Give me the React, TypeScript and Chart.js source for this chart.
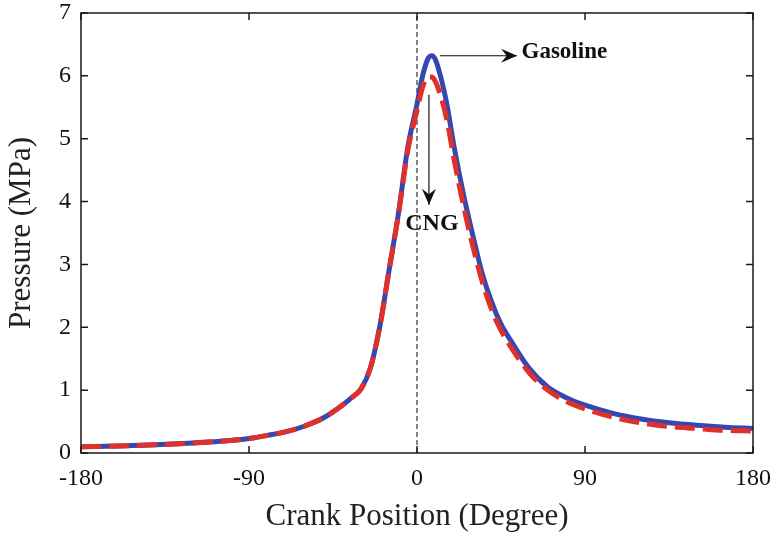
import React, { useEffect, useRef } from "react";
import { Chart, registerables } from "chart.js";

Chart.register(...registerables);

const crankAngles = [-180, -160, -140, -120, -100, -90, -80, -70, -60, -50, -40, -35, -30, -25, -20, -15, -10, -5, 0, 3, 6, 8, 10, 13, 16, 20, 25, 30, 35, 40, 45, 50, 60, 70, 80, 90, 105, 120, 135, 150, 165, 180];

const gasolinePressure = [0.10, 0.11, 0.13, 0.16, 0.20, 0.23, 0.28, 0.34, 0.43, 0.56, 0.76, 0.88, 1.02, 1.35, 2.0, 2.9, 3.8, 4.85, 5.55, 6.0, 6.28, 6.32, 6.25, 5.95, 5.55, 4.85, 4.1, 3.45, 2.85, 2.4, 2.05, 1.8, 1.35, 1.05, 0.88, 0.76, 0.63, 0.54, 0.48, 0.44, 0.41, 0.39];

const cngPressure = [0.10, 0.11, 0.13, 0.16, 0.20, 0.23, 0.28, 0.34, 0.43, 0.56, 0.76, 0.88, 1.02, 1.35, 2.0, 2.9, 3.78, 4.8, 5.45, 5.82, 5.98, 5.98, 5.9, 5.65, 5.3, 4.65, 3.92, 3.28, 2.72, 2.28, 1.95, 1.7, 1.28, 1.0, 0.82, 0.7, 0.57, 0.48, 0.42, 0.39, 0.36, 0.35];

const tdcLineX = [0, 0];
const tdcLineY = [0, 7];

const xTicks = [-180, -90, 0, 90, 180];
const yTicks = [0, 1, 2, 3, 4, 5, 6, 7];

const gasolineNote = { text: "Gasoline", x: 56, y: 6.38, fromX: 12.3, fromY: 6.32, toX: 53.6, toY: 6.32 };
const cngNote = { text: "CNG", x: 8, y: 3.64, fromX: 6.4, fromY: 5.7, toX: 6.4, toY: 3.95 };

const SERIF = "'Liberation Serif', 'Times New Roman', serif";

const framePlugin = {
  id: "frame",
  afterDatasetsDraw(chart: any) {
    const { ctx, chartArea: a, scales } = chart;
    const xs = scales.x;
    const ys = scales.y;
    ctx.save();
    ctx.strokeStyle = "#1a1a1a";
    ctx.lineWidth = 1.5;
    ctx.strokeRect(a.left, a.top, a.right - a.left, a.bottom - a.top);
    const tl = 7;
    ctx.beginPath();
    xTicks.forEach((v) => {
      const px = xs.getPixelForValue(v);
      ctx.moveTo(px, a.bottom);
      ctx.lineTo(px, a.bottom - tl);
      ctx.moveTo(px, a.top);
      ctx.lineTo(px, a.top + tl);
    });
    yTicks.forEach((v) => {
      const py = ys.getPixelForValue(v);
      ctx.moveTo(a.left, py);
      ctx.lineTo(a.left + tl, py);
      ctx.moveTo(a.right, py);
      ctx.lineTo(a.right - tl, py);
    });
    ctx.stroke();

    ctx.strokeStyle = "#111";
    ctx.fillStyle = "#111";
    ctx.lineWidth = 1.2;
    const arrow = (n: any) => {
      const x1 = xs.getPixelForValue(n.fromX);
      const y1 = ys.getPixelForValue(n.fromY);
      const x2 = xs.getPixelForValue(n.toX);
      const y2 = ys.getPixelForValue(n.toY);
      ctx.beginPath();
      ctx.moveTo(x1, y1);
      ctx.lineTo(x2, y2);
      ctx.stroke();
      const ang = Math.atan2(y2 - y1, x2 - x1);
      const L = 16;
      const W = 7;
      ctx.beginPath();
      ctx.moveTo(x2, y2);
      ctx.lineTo(x2 - L * Math.cos(ang) + W * Math.sin(ang), y2 - L * Math.sin(ang) - W * Math.cos(ang));
      ctx.lineTo(x2 - L * 0.65 * Math.cos(ang), y2 - L * 0.65 * Math.sin(ang));
      ctx.lineTo(x2 - L * Math.cos(ang) - W * Math.sin(ang), y2 - L * Math.sin(ang) + W * Math.cos(ang));
      ctx.closePath();
      ctx.fill();
    };
    arrow(gasolineNote);
    arrow(cngNote);
    ctx.font = `bold 23px ${SERIF}`;
    ctx.textBaseline = "middle";
    ctx.textAlign = "left";
    ctx.fillText(gasolineNote.text, xs.getPixelForValue(gasolineNote.x), ys.getPixelForValue(gasolineNote.y));
    ctx.textAlign = "center";
    ctx.font = `bold 24px ${SERIF}`;
    ctx.fillText(cngNote.text, xs.getPixelForValue(cngNote.x), ys.getPixelForValue(cngNote.y));
    ctx.restore();
  },
};

export default function App() {
  const ref = useRef<HTMLCanvasElement | null>(null);
  useEffect(() => {
    document.body.style.margin = "0";
    const toXY = (xsArr: number[], ysArr: number[]) => xsArr.map((x, i) => ({ x, y: ysArr[i] }));
    const chart = new Chart(ref.current as HTMLCanvasElement, {
      type: "line",
      data: {
        datasets: [
          {
            label: "CNG",
            data: toXY(crankAngles, cngPressure),
            borderColor: "#e0302a",
            borderWidth: 5,
            borderDash: [20, 8],
            pointRadius: 0,
            cubicInterpolationMode: "monotone",
          },
          {
            label: "Gasoline",
            data: toXY(crankAngles, gasolinePressure),
            borderColor: "#3548b0",
            borderWidth: 5,
            pointRadius: 0,
            cubicInterpolationMode: "monotone",
          },
          {
            label: "TDC",
            data: toXY(tdcLineX, tdcLineY),
            borderColor: "#333",
            borderWidth: 1.2,
            borderDash: [5, 3],
            pointRadius: 0,
            tension: 0,
          },
        ],
      },
      options: {
        animation: false,
        responsive: false,
        maintainAspectRatio: false,
        layout: { padding: { left: 0, right: 22, top: 13, bottom: 0 } },
        plugins: { legend: { display: false }, tooltip: { enabled: false } },
        scales: {
          x: {
            type: "linear",
            min: -180,
            max: 180,
            afterBuildTicks: (s: any) => {
              s.ticks = xTicks.map((v) => ({ value: v }));
            },
            afterFit: (s: any) => {
              s.height = 83;
              s.paddingLeft = 0;
              s.paddingRight = 0;
            },
            grid: { display: false, drawTicks: false },
            border: { display: false },
            ticks: {
              padding: 11,
              color: "#111",
              font: { family: SERIF, size: 24 },
              maxRotation: 0,
              autoSkip: false,
            },
            title: {
              display: true,
              text: "Crank Position (Degree)",
              color: "#222",
              font: { family: SERIF, size: 31 },
              padding: { top: 0, bottom: 1 },
            },
          },
          y: {
            type: "linear",
            min: 0,
            max: 7,
            afterBuildTicks: (s: any) => {
              s.ticks = yTicks.map((v) => ({ value: v }));
            },
            afterFit: (s: any) => {
              s.width = 81;
              s.paddingTop = 0;
              s.paddingBottom = 0;
            },
            grid: { display: false, drawTicks: false },
            border: { display: false },
            ticks: {
              padding: 10,
              color: "#111",
              font: { family: SERIF, size: 24 },
            },
            title: {
              display: true,
              text: "Pressure (MPa)",
              color: "#222",
              font: { family: SERIF, size: 31 },
              padding: { top: 3, bottom: 0 },
            },
          },
        },
      },
      plugins: [framePlugin],
    } as any);
    return () => chart.destroy();
  }, []);
  return <canvas ref={ref} width={775} height={536} style={{ display: "block" }} />;
}
